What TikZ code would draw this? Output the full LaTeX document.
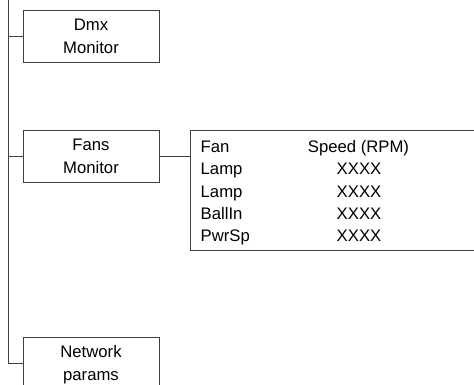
\documentclass[tikz,border=0pt]{standalone}
\usepackage{fontspec}
\setmainfont{Liberation Sans}
\begin{document}
\begin{tikzpicture}[x=1pt,y=-1pt,
  menubox/.style={draw=black!75,line width=0.8pt,minimum width=136pt,minimum height=52pt,
    inner sep=0pt,align=center,font=\fontsize{16.7}{22.7}\selectfont,text depth=-4pt},
  conn/.style={draw=black!75,line width=0.8pt},
  cell/.style={inner sep=0pt,font=\fontsize{16.7}{22.3}\selectfont},
  lab/.style={cell,anchor=base west},
  val/.style={cell,anchor=base}]
\useasboundingbox (0,0) rectangle (474,385);
\clip (0,0) rectangle (474,385);
\node[menubox] (dmx) at (91,36) {Dmx\\Monitor};
\node[menubox] (fans) at (91,156) {Fans\\Monitor};
\node[menubox] (net) at (91,363) {Network\\params};
\node[draw=black!75,line width=0.8pt,minimum width=320pt,minimum height=120pt,inner sep=0pt,anchor=north west] (panel) at (190,130) {};
\coordinate (spinetop) at (8,0);
\draw[conn] (spinetop) |- (net.west);
\draw[conn] (spinetop |- dmx.west) -- (dmx.west);
\draw[conn] (spinetop |- fans.west) -- (fans.west);
\draw[conn] (fans.east) -- (panel.west |- fans.east);
\node[lab] (l1) at (200.5,152.5) {Fan};
\node[lab] (l2) at (200.5,174.8) {Lamp};
\node[lab] (l3) at (200.5,197.1) {Lamp};
\node[lab] (l4) at (200.5,219.4) {BallIn};
\node[lab] (l5) at (200.5,241.7) {PwrSp};
\node[val] (v1) at (358.5,152.5) {Speed (RPM)};
\node[val] (v2) at (359,174.8) {XXXX};
\node[val] (v3) at (359,197.1) {XXXX};
\node[val] (v4) at (359,219.4) {XXXX};
\node[val] (v5) at (359,241.7) {XXXX};
\end{tikzpicture}
\end{document}
